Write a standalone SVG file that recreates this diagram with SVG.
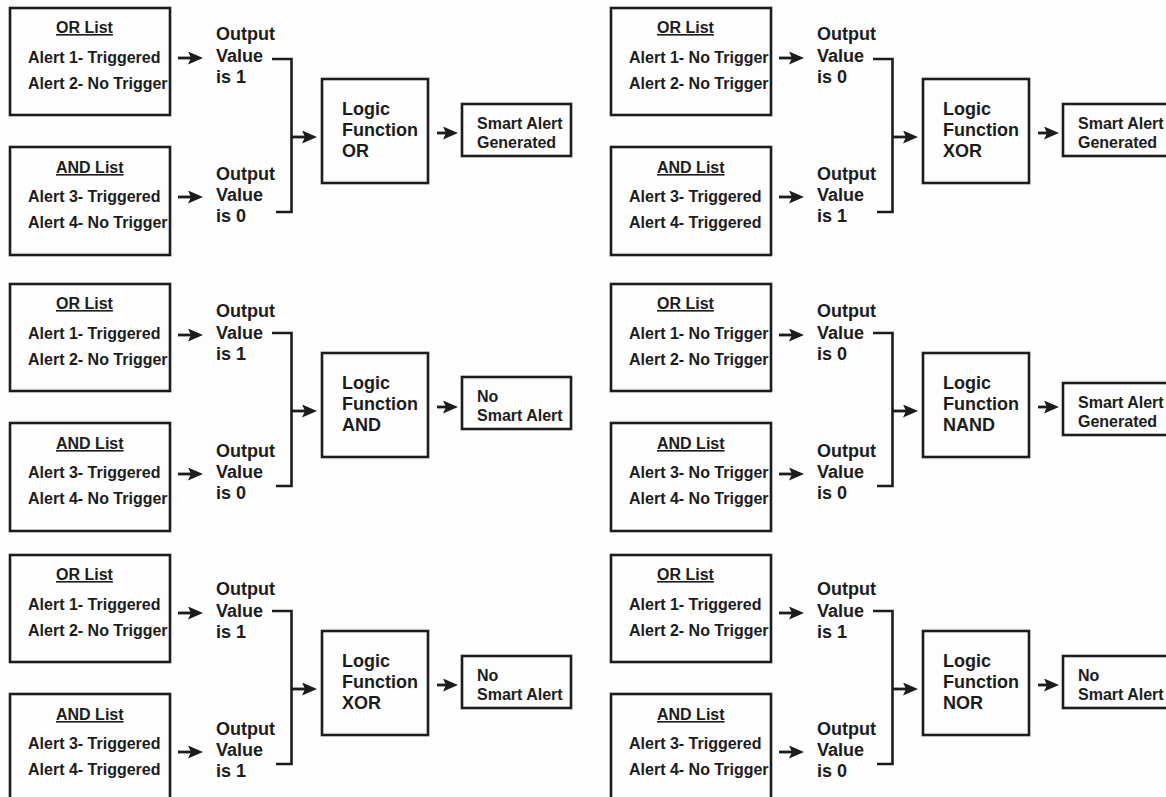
<svg xmlns="http://www.w3.org/2000/svg" width="1166" height="797" viewBox="0 0 1166 797">
<style>
.box{fill:#fdfdfd;stroke:#1c1c1c;stroke-width:2.6}
text{font-family:"Liberation Sans",Arial,sans-serif;font-weight:bold;fill:#1c1c1c}
.t{font-size:16px}
.h{font-size:16px;text-decoration:underline}
.o{font-size:18px}
.c{fill:none;stroke:#1c1c1c;stroke-width:2.6}
.a{fill:none;stroke:#1c1c1c;stroke-width:2.8;marker-end:url(#ah)}
</style>
<defs>
<marker id="ah" markerUnits="userSpaceOnUse" markerWidth="15" markerHeight="13" refX="11" refY="6.5" orient="auto">
<path d="M0,0 L15,6.5 L0,13 L3,6.5 Z" fill="#1c1c1c"/>
</marker>
</defs>
<rect x="0" y="0" width="1166" height="797" fill="#fdfdfd"/>

<!-- Panel 1 -->
<g id="p1-or" transform="translate(0,0)"><rect class="box" x="10" y="8" width="160" height="107"/><text class="h" x="56" y="33">OR List</text><text class="t" x="28" y="63">Alert 1- Triggered</text><text class="t" x="28" y="89">Alert 2- No Trigger</text></g>
<g id="p1-and" transform="translate(0,0)"><rect class="box" x="10" y="147" width="160" height="108"/><text class="h" x="56" y="173">AND List</text><text class="t" x="28" y="202">Alert 3- Triggered</text><text class="t" x="28" y="228">Alert 4- No Trigger</text></g>
<g id="p1-out1" transform="translate(0,0)"><text class="o" x="216" y="40">Output</text><text class="o" x="216" y="62">Value</text><text class="o" x="216" y="83">is 1</text></g>
<g id="p1-out2" transform="translate(0,0)"><text class="o" x="216" y="180">Output</text><text class="o" x="216" y="201">Value</text><text class="o" x="216" y="222">is 0</text></g>
<g id="p1-logic" transform="translate(0,0)"><rect class="box" x="322" y="79" width="106" height="104"/><text class="o" x="342" y="115">Logic</text><text class="o" x="342" y="136">Function</text><text class="o" x="342" y="157">OR</text></g>
<g id="p1-result" transform="translate(0,0)"><rect class="box" x="462" y="104" width="109" height="52"/><text class="t" x="477" y="129">Smart Alert</text><text class="t" x="477" y="148">Generated</text></g>

<!-- Panel 2 -->
<g id="p2-or" transform="translate(601,0)"><rect class="box" x="10" y="8" width="160" height="107"/><text class="h" x="56" y="33">OR List</text><text class="t" x="28" y="63">Alert 1- No Trigger</text><text class="t" x="28" y="89">Alert 2- No Trigger</text></g>
<g id="p2-and" transform="translate(601,0)"><rect class="box" x="10" y="147" width="160" height="108"/><text class="h" x="56" y="173">AND List</text><text class="t" x="28" y="202">Alert 3- Triggered</text><text class="t" x="28" y="228">Alert 4- Triggered</text></g>
<g id="p2-out1" transform="translate(601,0)"><text class="o" x="216" y="40">Output</text><text class="o" x="216" y="62">Value</text><text class="o" x="216" y="83">is 0</text></g>
<g id="p2-out2" transform="translate(601,0)"><text class="o" x="216" y="180">Output</text><text class="o" x="216" y="201">Value</text><text class="o" x="216" y="222">is 1</text></g>
<g id="p2-logic" transform="translate(601,0)"><rect class="box" x="322" y="79" width="106" height="104"/><text class="o" x="342" y="115">Logic</text><text class="o" x="342" y="136">Function</text><text class="o" x="342" y="157">XOR</text></g>
<g id="p2-result" transform="translate(601,0)"><rect class="box" x="462" y="104" width="109" height="52"/><text class="t" x="477" y="129">Smart Alert</text><text class="t" x="477" y="148">Generated</text></g>

<!-- Panel 3 -->
<g id="p3-or" transform="translate(0,276)"><rect class="box" x="10" y="8" width="160" height="107"/><text class="h" x="56" y="33">OR List</text><text class="t" x="28" y="63">Alert 1- Triggered</text><text class="t" x="28" y="89">Alert 2- No Trigger</text></g>
<g id="p3-and" transform="translate(0,276)"><rect class="box" x="10" y="147" width="160" height="108"/><text class="h" x="56" y="173">AND List</text><text class="t" x="28" y="202">Alert 3- Triggered</text><text class="t" x="28" y="228">Alert 4- No Trigger</text></g>
<g id="p3-out1" transform="translate(0,277)"><text class="o" x="216" y="40">Output</text><text class="o" x="216" y="62">Value</text><text class="o" x="216" y="83">is 1</text></g>
<g id="p3-out2" transform="translate(0,277)"><text class="o" x="216" y="180">Output</text><text class="o" x="216" y="201">Value</text><text class="o" x="216" y="222">is 0</text></g>
<g id="p3-logic" transform="translate(0,274)"><rect class="box" x="322" y="79" width="106" height="104"/><text class="o" x="342" y="115">Logic</text><text class="o" x="342" y="136">Function</text><text class="o" x="342" y="157">AND</text></g>
<g id="p3-result" transform="translate(0,273)"><rect class="box" x="462" y="104" width="109" height="52"/><text class="t" x="477" y="129">No</text><text class="t" x="477" y="148">Smart Alert</text></g>

<!-- Panel 4 -->
<g id="p4-or" transform="translate(601,276)"><rect class="box" x="10" y="8" width="160" height="107"/><text class="h" x="56" y="33">OR List</text><text class="t" x="28" y="63">Alert 1- No Trigger</text><text class="t" x="28" y="89">Alert 2- No Trigger</text></g>
<g id="p4-and" transform="translate(601,276)"><rect class="box" x="10" y="147" width="160" height="108"/><text class="h" x="56" y="173">AND List</text><text class="t" x="28" y="202">Alert 3- No Trigger</text><text class="t" x="28" y="228">Alert 4- No Trigger</text></g>
<g id="p4-out1" transform="translate(601,277)"><text class="o" x="216" y="40">Output</text><text class="o" x="216" y="62">Value</text><text class="o" x="216" y="83">is 0</text></g>
<g id="p4-out2" transform="translate(601,277)"><text class="o" x="216" y="180">Output</text><text class="o" x="216" y="201">Value</text><text class="o" x="216" y="222">is 0</text></g>
<g id="p4-logic" transform="translate(601,274)"><rect class="box" x="322" y="79" width="106" height="104"/><text class="o" x="342" y="115">Logic</text><text class="o" x="342" y="136">Function</text><text class="o" x="342" y="157">NAND</text></g>
<g id="p4-result" transform="translate(601,279)"><rect class="box" x="462" y="104" width="109" height="52"/><text class="t" x="477" y="129">Smart Alert</text><text class="t" x="477" y="148">Generated</text></g>

<!-- Panel 5 -->
<g id="p5-or" transform="translate(0,547)"><rect class="box" x="10" y="8" width="160" height="107"/><text class="h" x="56" y="33">OR List</text><text class="t" x="28" y="63">Alert 1- Triggered</text><text class="t" x="28" y="89">Alert 2- No Trigger</text></g>
<g id="p5-and" transform="translate(0,547)"><rect class="box" x="10" y="147" width="160" height="108"/><text class="h" x="56" y="173">AND List</text><text class="t" x="28" y="202">Alert 3- Triggered</text><text class="t" x="28" y="228">Alert 4- Triggered</text></g>
<g id="p5-out1" transform="translate(0,555)"><text class="o" x="216" y="40">Output</text><text class="o" x="216" y="62">Value</text><text class="o" x="216" y="83">is 1</text></g>
<g id="p5-out2" transform="translate(0,555)"><text class="o" x="216" y="180">Output</text><text class="o" x="216" y="201">Value</text><text class="o" x="216" y="222">is 1</text></g>
<g id="p5-logic" transform="translate(0,552)"><rect class="box" x="322" y="79" width="106" height="104"/><text class="o" x="342" y="115">Logic</text><text class="o" x="342" y="136">Function</text><text class="o" x="342" y="157">XOR</text></g>
<g id="p5-result" transform="translate(0,552)"><rect class="box" x="462" y="104" width="109" height="52"/><text class="t" x="477" y="129">No</text><text class="t" x="477" y="148">Smart Alert</text></g>

<!-- Panel 6 -->
<g id="p6-or" transform="translate(601,547)"><rect class="box" x="10" y="8" width="160" height="107"/><text class="h" x="56" y="33">OR List</text><text class="t" x="28" y="63">Alert 1- Triggered</text><text class="t" x="28" y="89">Alert 2- No Trigger</text></g>
<g id="p6-and" transform="translate(601,547)"><rect class="box" x="10" y="147" width="160" height="108"/><text class="h" x="56" y="173">AND List</text><text class="t" x="28" y="202">Alert 3- Triggered</text><text class="t" x="28" y="228">Alert 4- No Trigger</text></g>
<g id="p6-out1" transform="translate(601,555)"><text class="o" x="216" y="40">Output</text><text class="o" x="216" y="62">Value</text><text class="o" x="216" y="83">is 1</text></g>
<g id="p6-out2" transform="translate(601,555)"><text class="o" x="216" y="180">Output</text><text class="o" x="216" y="201">Value</text><text class="o" x="216" y="222">is 0</text></g>
<g id="p6-logic" transform="translate(601,552)"><rect class="box" x="322" y="79" width="106" height="104"/><text class="o" x="342" y="115">Logic</text><text class="o" x="342" y="136">Function</text><text class="o" x="342" y="157">NOR</text></g>
<g id="p6-result" transform="translate(601,552)"><rect class="box" x="462" y="104" width="109" height="52"/><text class="t" x="477" y="129">No</text><text class="t" x="477" y="148">Smart Alert</text></g>

<g id="connectors">
<path class="a" d="M178,58 H199"/><path class="a" d="M178,197 H199"/>
<path class="c" d="M272,59 H291.5 V212 H276"/><path class="a" d="M291.5,137 H313"/><path class="a" d="M437,133 H454"/>

<path class="a" d="M779,58 H800"/><path class="a" d="M779,197 H800"/>
<path class="c" d="M873,59 H892.5 V212 H877"/><path class="a" d="M892.5,137 H914"/><path class="a" d="M1038,133 H1055"/>

<path class="a" d="M178,335 H199"/><path class="a" d="M178,474 H199"/>
<path class="c" d="M272,333 H291.5 V486 H276"/><path class="a" d="M291.5,411 H313"/><path class="a" d="M437,407 H454"/>

<path class="a" d="M779,335 H800"/><path class="a" d="M779,474 H800"/>
<path class="c" d="M873,333 H892.5 V486 H877"/><path class="a" d="M892.5,411 H914"/><path class="a" d="M1038,407 H1055"/>

<path class="a" d="M178,613 H199"/><path class="a" d="M178,752 H199"/>
<path class="c" d="M272,611 H291.5 V764 H276"/><path class="a" d="M291.5,689 H313"/><path class="a" d="M437,685 H454"/>

<path class="a" d="M779,613 H800"/><path class="a" d="M779,752 H800"/>
<path class="c" d="M873,611 H892.5 V764 H877"/><path class="a" d="M892.5,689 H914"/><path class="a" d="M1038,685 H1055"/>
</g>
</svg>
